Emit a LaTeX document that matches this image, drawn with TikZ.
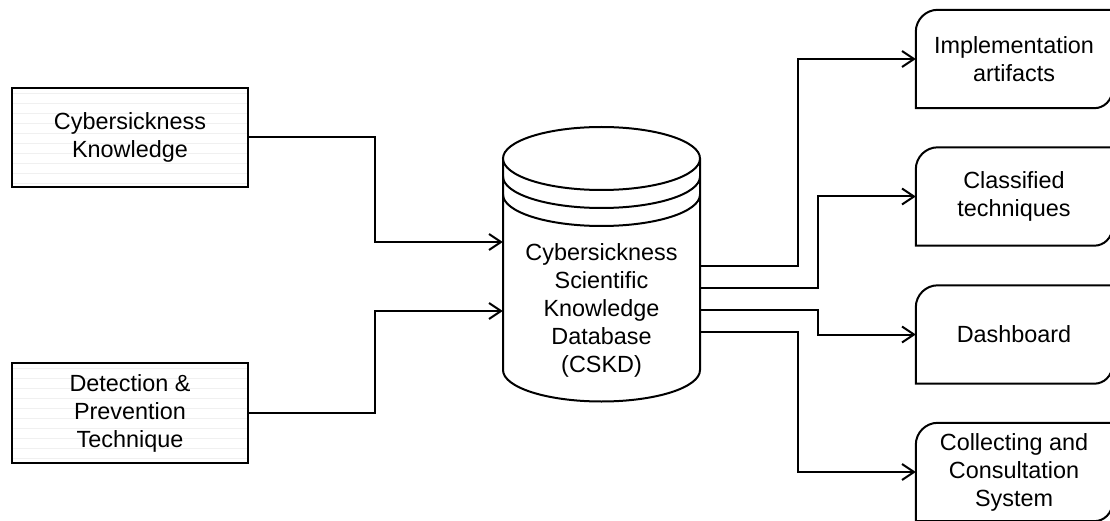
\documentclass[tikz,border=0pt]{standalone}
\usepackage{fontspec}
\setmainfont{Liberation Sans}
\usetikzlibrary{arrows.meta,calc}

\definecolor{stripecol}{HTML}{F0F0F0}

\tikzset{
  line/.style={line width=2pt, draw=black},
  arr/.style={line, -{Straight Barb[length=12pt,width=16pt]}},
  lbl/.style={font=\fontsize{23.4}{28}\selectfont, align=center, inner sep=0pt},
  srcbox/.style={inner sep=0pt, minimum width=236pt, minimum height=99pt},
  outbox/.style={inner sep=0pt, minimum width=196pt, minimum height=98pt},
  stripe/.style={line width=1pt, draw=stripecol},
}

\newcommand{\stripedbox}[1]{%
  \begin{scope}
    \clip (#1.south west) rectangle (#1.north east);
    \foreach \k in {1,...,10}
      \draw[stripe] ([yshift=-\k*10pt+4pt]#1.north west) -- ([yshift=-\k*10pt+4pt]#1.north east);
  \end{scope}
  \draw[line] (#1.south west) rectangle (#1.north east);
}

\newcommand{\outshape}[1]{%
  \draw[line, fill=white] (#1.south west) -- ([yshift=-22pt]#1.north west)
    arc[start angle=180, end angle=90, radius=22pt] -- (#1.north east)
    -- ([yshift=18pt]#1.south east)
    arc[start angle=0, end angle=-90, radius=18pt] -- cycle;
}

\begin{document}
\begin{tikzpicture}[x=1pt, y=-1pt]
\useasboundingbox (0,0) rectangle (1110,521);

% source boxes on the left
\node[srcbox] (ck) at (130,137.5) {};
\node[srcbox, minimum height=100pt] (dp) at (130,413) {};
\stripedbox{ck}
\stripedbox{dp}
\node[lbl] (cktext) at (ck) {Cybersickness\\Knowledge};
\node[lbl] (dptext) at (dp) {Detection \&\\Prevention\\Technique};

% database cylinder
\node[minimum width=197pt, minimum height=274pt, inner sep=0pt] (db) at (601.5,264) {};
\draw[line, fill=white] (503,158.5) -- (503,370)
  arc[start angle=180, end angle=360, x radius=98.5pt, y radius=31.5pt]
  -- (700,158.5);
\draw[line, fill=white] (601.5,158.5) ellipse[x radius=98.5pt, y radius=31.5pt];
\draw[line] (503,176.5) arc[start angle=180, end angle=360, x radius=98.5pt, y radius=31.5pt];
\draw[line] (503,194.5) arc[start angle=180, end angle=360, x radius=98.5pt, y radius=31.5pt];
\node[lbl] (dbtext) at (601.5,310.5) {Cybersickness\\Scientific\\Knowledge\\Database\\(CSKD)};

% output boxes on the right
\node[outbox] (r1) at (1014,59) {};
\node[outbox] (r2) at (1014,196.5) {};
\node[outbox] (r3) at (1014,334.5) {};
\node[outbox] (r4) at (1014,472) {};
\foreach \r in {r1,r2,r3,r4} { \outshape{\r} }
\node[lbl] (r1text) at (r1) {Implementation\\artifacts};
\node[lbl] (r2text) at (r2) {Classified\\techniques};
\node[lbl] (r3text) at (r3) {Dashboard};
\node[lbl] (r4text) at (r4) {Collecting and\\Consultation\\System};

% connection points on the cylinder
\coordinate (i1) at ($(db.west)+(0,-22)$);
\coordinate (i2) at ($(db.west)+(0,47)$);
\coordinate (o1) at ($(db.east)+(0,1.5)$);
\coordinate (o2) at ($(db.east)+(0,24)$);
\coordinate (o3) at ($(db.east)+(0,46)$);
\coordinate (o4) at ($(db.east)+(0,68)$);

% inputs
\draw[arr] (ck.east) -- ++(127,0) |- (i1);
\draw[arr] (dp.east) -- ++(127,0) |- (i2);

% outputs
\draw[arr] (o1) -- ++(98,0) |- (r1.west);
\draw[arr] (o2) -- ++(118,0) |- (r2.west);
\draw[arr] (o3) -- ++(118,0) |- (r3.west);
\draw[arr] (o4) -- ++(98,0) |- (r4.west);
\end{tikzpicture}
\end{document}
